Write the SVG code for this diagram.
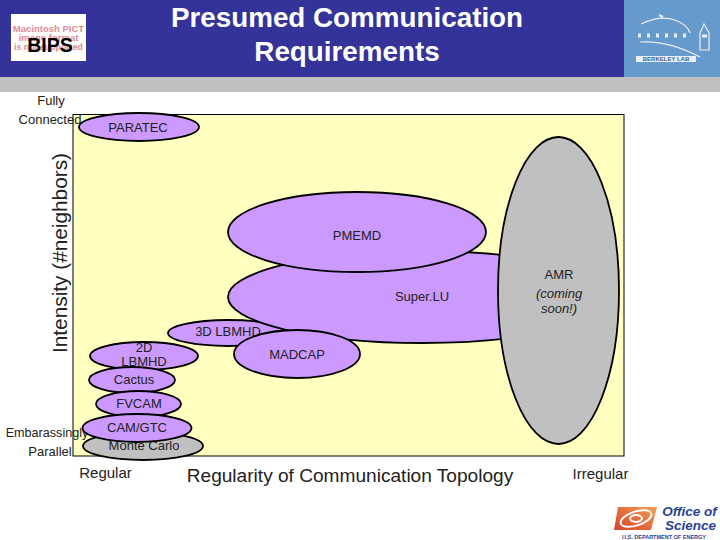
<svg xmlns="http://www.w3.org/2000/svg" width="720" height="540" viewBox="0 0 720 540">
<style>
text{font-family:"Liberation Sans",Arial,sans-serif;fill:#222;text-anchor:middle}
.e{fill:#cc99ff;stroke:#000;stroke-width:1.800}
.g{fill:#c0c0c0;stroke:#000;stroke-width:1.800}
.l{font-size:13px}
.a{font-size:15px}
.t{font-size:27.800px;font-weight:bold;fill:#fff}
.p{font-size:9.500px;font-weight:bold;fill:#e08a94}
</style>
<defs>
<linearGradient id="doe" x1="0" y1="1" x2="1" y2="0"><stop offset="0" stop-color="#d8402a"/><stop offset="1" stop-color="#f0a050"/></linearGradient>
</defs>
<rect width="720" height="540" fill="#fff"/>
<g id="header">
<rect width="624" height="77" fill="#333399"/>
<rect x="624" width="96" height="77" fill="#6699cc"/>
<rect y="77" width="720" height="15" fill="#c0c0c0"/>
<text class="t" x="347" y="27">Presumed Communication</text>
<text class="t" x="347" y="61">Requirements</text>
</g>
<g id="logo-bips">
<rect x="11" y="14" width="75" height="47" fill="#fff"/>
<text class="p" x="48.500" y="32">Macintosh PICT</text>
<text class="p" x="48.500" y="41">image format</text>
<text class="p" x="48.500" y="50" style="font-size:8.800px">is not supported</text>
<text x="50" y="52" font-size="19.500" font-weight="bold" style="fill:#000">BIPS</text>
</g>
<g id="logo-berkeley" fill="none" stroke="#e8f0f8">
<path d="M641 24Q660 15 675 20Q688 25 690 33" stroke-width="1.200"/>
<path d="M659 15l4 2" stroke-width="2"/>
<path d="M640 42Q668 40 700 57" stroke-width="1.200"/>
<path d="M638 35.500h52" stroke-width="4" stroke-dasharray="3 6"/>
<path d="M700 50V33L704 24L709 33V50Z" stroke-width="1.200"/>
<path d="M702 36h5" stroke-width="3"/>
<rect x="636" y="56" width="60" height="6" fill="#e8f0f8" stroke="none"/>
<text x="666" y="61" font-size="6" font-weight="bold" stroke="none" style="fill:#336699">BERKELEY LAB</text>
</g>
<g id="logo-science">
<path d="M618 507H657L651 530H614Z" fill="url(#doe)"/>
<ellipse cx="636" cy="518.500" rx="16" ry="7" fill="none" stroke="#fff" stroke-width="2" transform="rotate(-18 636 518.500)"/>
<ellipse cx="636" cy="518.500" rx="6" ry="3.500" fill="none" stroke="#fff" stroke-width="2"/>
<text x="689.500" y="516" font-size="13.500" font-weight="bold" font-style="italic" style="fill:#2a3f94">Office of</text>
<text x="690.500" y="530" font-size="13.500" font-weight="bold" font-style="italic" style="fill:#2a3f94">Science</text>
<text x="664" y="539" font-size="5.500" font-weight="bold" style="fill:#2a3f94">U.S. DEPARTMENT OF ENERGY</text>
</g>
<g id="axes">
<rect x="73" y="114.500" width="551" height="341.500" fill="#ffffc0" stroke="#000" stroke-width="1"/>
<text class="l" x="51" y="105">Fully</text>
<text class="l" x="50" y="124">Connected</text>
<text class="l" x="47" y="437" style="font-size:12.600px">Embarassingly</text>
<text class="l" x="50" y="456">Parallel</text>
<text x="0" y="0" font-size="20.800" transform="translate(67 253) rotate(-90)">Intensity (#neighbors)</text>
<text class="a" x="105.500" y="478">Regular</text>
<text x="350" y="482" font-size="19.100">Regularity of Communication Topology</text>
<text class="a" x="600.500" y="479">Irregular</text>
</g>
<g id="connectors"></g>
<g id="paratec"><ellipse class="e" cx="139" cy="127" rx="60" ry="14"/><text class="l" x="138" y="132">PARATEC</text></g>
<g id="lbmhd3d"><ellipse class="e" cx="228" cy="333" rx="60" ry="13"/><text class="l" x="228" y="336">3D LBMHD</text></g>
<g id="superlu"><ellipse class="e" cx="422" cy="297" rx="194" ry="46"/><text class="l" x="422" y="301">Super.LU</text></g>
<g id="pmemd"><ellipse class="e" cx="357" cy="232" rx="129" ry="40"/><text class="l" x="357" y="240">PMEMD</text></g>
<g id="madcap"><ellipse class="e" cx="297" cy="354" rx="63" ry="24"/><text class="l" x="297" y="359">MADCAP</text></g>
<g id="amr"><ellipse class="g" cx="558.500" cy="290.500" rx="60.500" ry="153.500"/><text class="l" x="559" y="279">AMR</text><text class="l" x="559" y="298" font-style="italic">(coming</text><text class="l" x="559" y="313" font-style="italic">soon!)</text></g>
<g id="lbmhd2d"><ellipse class="e" cx="144" cy="356" rx="54" ry="14"/><text class="l" x="144" y="352">2D</text><text class="l" x="144" y="366">LBMHD</text></g>
<g id="cactus"><ellipse class="e" cx="132" cy="380" rx="43" ry="13"/><text class="l" x="134" y="384">Cactus</text></g>
<g id="fvcam"><ellipse class="e" cx="138.500" cy="404" rx="42.500" ry="13"/><text class="l" x="139" y="408">FVCAM</text></g>
<g id="montecarlo"><ellipse class="g" cx="143" cy="446" rx="60" ry="14"/><text class="l" x="144" y="450">Monte Carlo</text></g>
<g id="camgtc"><ellipse class="e" cx="137" cy="428" rx="54.500" ry="14"/><text class="l" x="137" y="432">CAM/GTC</text></g>
</svg>
